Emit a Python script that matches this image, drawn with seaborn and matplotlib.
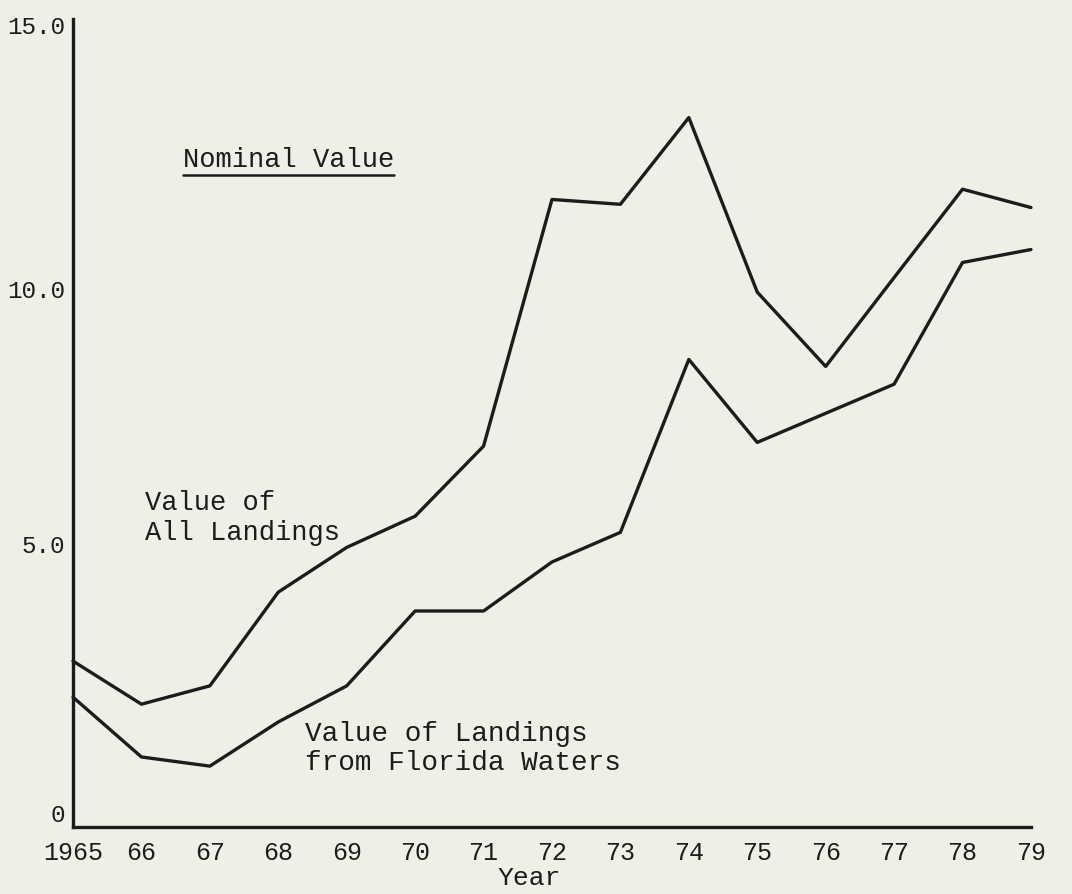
import matplotlib
matplotlib.use("Agg")
import matplotlib.pyplot as plt
from matplotlib import transforms
from matplotlib.lines import Line2D
import numpy as np
import pandas as pd
import seaborn as sns

# ---- data (values in millions of dollars) ----
years = list(range(1965, 1980))
all_landings = [3.08, 2.28, 2.62, 4.36, 5.19, 5.77, 7.07, 11.65, 11.56, 13.17,
                9.93, 8.55, 10.2, 11.84, 11.5]
florida_waters = [2.41, 1.30, 1.13, 1.95, 2.62, 4.01, 4.01, 4.92, 5.47, 8.68,
                  7.14, 7.68, 8.22, 10.48, 10.72]
year_labels = ["1965", "66", "67", "68", "69", "70", "71", "72", "73", "74",
               "75", "76", "77", "78", "79"]
y_ticks = [0, 5, 10, 15]
y_tick_labels = ["0", "5.0", "10.0", "15.0"]

df = pd.DataFrame({
    "Year": years * 2,
    "Value": all_landings + florida_waters,
    "Series": ["Value of All Landings"] * len(years)
              + ["Value of Landings from Florida Waters"] * len(years),
})

sns.set_theme(style="white")
plt.rcParams["font.family"] = ["Liberation Mono", "DejaVu Sans Mono"]

bg = "#efeee7"
ink = "#1c1c1c"
W, H = 1072, 895

fig = plt.figure(figsize=(W / 100, H / 100), dpi=100, facecolor=bg)
ax = fig.add_axes([73 / W, 67 / H, 999 / W, 808 / H])
ax.set_facecolor(bg)

sns.lineplot(data=df, x="Year", y="Value", hue="Series",
             palette=[ink, ink], linewidth=2.4, legend=False, ax=ax,
             clip_on=False)

ax.set_xlim(1965, 1979.6)
ax.set_ylim(0, 15)

for s in ["top", "right"]:
    ax.spines[s].set_visible(False)
for s in ["left", "bottom"]:
    ax.spines[s].set_color(ink)
    ax.spines[s].set_linewidth(2.4)
ax.spines["bottom"].set_bounds(1965, 1979)

ax.set_xticks(years)
ax.set_xticklabels(year_labels)
ax.set_yticks(y_ticks)
ax.set_yticklabels(y_tick_labels)
ax.tick_params(axis="both", direction="inout", length=11, width=1.8,
               colors=ink, labelsize=18)
ax.tick_params(axis="x", pad=4)
ax.tick_params(axis="y", pad=0, labelsize=17.5)

# tick labels sit a little above their ticks in the original
offsets_px = [15, 15, 0, -5]
for lab, dy in zip(ax.get_yticklabels(), offsets_px):
    lab.set_transform(lab.get_transform()
                      + transforms.ScaledTranslation(0, dy / 100, fig.dpi_scale_trans))

ax.set_xlabel("Year", fontsize=19, color=ink)
ax.xaxis.set_label_coords((529 - 73) / 999, -(866 - 828) / 808)
ax.set_ylabel("")

# annotations
fig.text(183 / W, 1 - 160 / H, "Nominal Value", fontsize=19.5, color=ink,
         ha="left", va="center")
fig.add_artist(Line2D([183 / W, 394 / W], [1 - 176 / H, 1 - 176 / H],
                      color=ink, linewidth=1.8, transform=fig.transFigure))
fig.text(145 / W, 1 - 518 / H, "Value of\nAll Landings", fontsize=19.5,
         color=ink, ha="left", va="center", linespacing=1.2)
fig.text(305 / W, 1 - 749 / H, "Value of Landings\nfrom Florida Waters",
         fontsize=20, color=ink, ha="left", va="center", linespacing=1.15)

fig.savefig("out.png", dpi=100, facecolor=bg)
